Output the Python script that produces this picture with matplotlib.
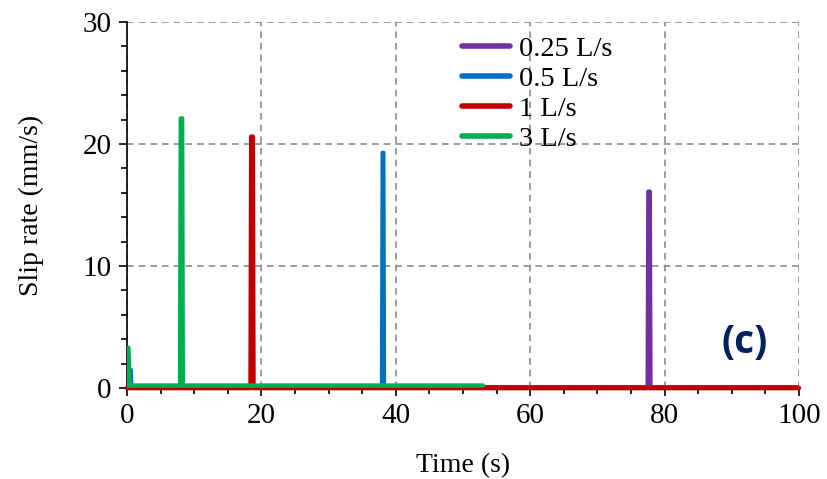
import matplotlib
matplotlib.use("Agg")
import matplotlib.pyplot as plt
from matplotlib.ticker import MultipleLocator

plt.rcParams['font.family'] = ['Liberation Serif', 'DejaVu Serif']

# time (s) and slip rate (mm/s)
t_025 = [0.0, 77.5, 77.6, 77.8, 77.9, 100.0]
v_025 = [0.05, 0.05, 16.1, 16.1, 0.05, 0.05]

t_05 = [0.0, 0.3, 0.4, 0.6, 0.7, 37.9, 38.0, 38.2, 38.3, 100.0]
v_05 = [0.0, 0.0, 1.5, 1.5, 0.1, 0.1, 19.3, 19.3, 0.1, 0.1]

t_1 = [0.0, 18.4, 18.5, 18.7, 18.8, 100.0]
v_1 = [0.0, 0.0, 20.6, 20.6, 0.0, 0.0]

t_3 = [0.0, 0.1, 0.2, 0.4, 7.9, 8.0, 8.2, 8.3, 53.0]
v_3 = [0.0, 3.3, 3.3, 0.2, 0.2, 22.1, 22.1, 0.2, 0.2]

fig, ax = plt.subplots(figsize=(8.27, 4.79), dpi=100)
fig.subplots_adjust(left=0.1536, right=0.966, top=0.954, bottom=0.19)

ax.plot(t_025, v_025, color='#7030a0', lw=3.2, label='0.25 L/s', solid_capstyle='round', zorder=3)
ax.plot(t_05, v_05, color='#0070c0', lw=2.6, label='0.5 L/s', solid_capstyle='round', zorder=4)
ax.plot(t_1, v_1, color='#c00000', lw=3.4, label='1 L/s', solid_capstyle='round', zorder=5,
        clip_on=False)
ax.plot(t_3, v_3, color='#00b050', lw=3.2, label='3 L/s', solid_capstyle='round', zorder=6)

ax.set_xlim(0, 100)
ax.set_ylim(0, 30)
ax.xaxis.set_major_locator(MultipleLocator(20))
ax.xaxis.set_minor_locator(MultipleLocator(5))
ax.yaxis.set_major_locator(MultipleLocator(10))
ax.yaxis.set_minor_locator(MultipleLocator(2))
ax.tick_params(which='major', direction='out', length=6, width=1.2, labelsize=21, pad=5)
ax.tick_params(which='minor', direction='out', length=4, width=1.2)
ax.grid(True, which='major', color='#8c8c8c', linestyle=(0, (4, 3)), linewidth=1.2)
for s in ['top', 'right']:
    ax.spines[s].set_visible(False)
for s in ['left', 'bottom']:
    ax.spines[s].set_linewidth(1.2)

ax.set_xlabel('Time (s)', fontsize=20, labelpad=17)
ax.set_ylabel('Slip rate (mm/s)', fontsize=20, labelpad=28)

leg = ax.legend(loc='upper left', bbox_to_anchor=(0.4985, 0.963), frameon=False, fontsize=20.5,
                handlelength=1.7, handletextpad=0.3, labelspacing=0.15, borderaxespad=0,
                borderpad=0)
for h in leg.get_lines():
    h.set_linewidth(4)

ax.text(0.919, 0.125, '(c)', transform=ax.transAxes, fontsize=28, fontweight='bold',
        family=['Open Sans', 'DejaVu Sans'], color='#002060', ha='center', va='center')

fig.savefig('out.png', dpi=100)
